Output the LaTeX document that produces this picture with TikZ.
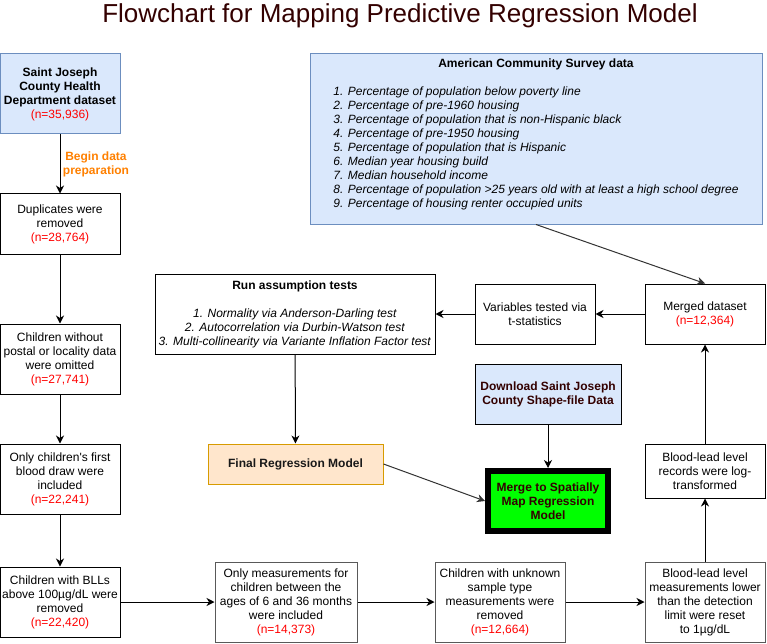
\documentclass[tikz,border=0pt]{standalone}
\usepackage{fontspec}
\usepackage{array}
\setmainfont{Liberation Sans}
\usetikzlibrary{arrows.meta}
\definecolor{acsblue}{HTML}{DAE8FC}
\definecolor{acsline}{HTML}{6C8EBF}
\definecolor{finfill}{HTML}{FFE6CC}
\definecolor{finline}{HTML}{D79B00}
\definecolor{maroon}{HTML}{330000}
\definecolor{prep}{HTML}{FF8000}
\definecolor{mapgreen}{HTML}{00FF00}
\newcommand{\nval}[1]{\textcolor{red}{\mdseries(n=#1)}}
\begin{document}
\begin{tikzpicture}[x=1pt, y=-1pt,
  every node/.style={font=\fontsize{12}{14}\selectfont, align=center, inner sep=0pt},
  box/.style={draw, line width=1pt, minimum width=120pt, minimum height=60pt},
  graybox/.style={box, draw=black!65},
  bluebox/.style={box, fill=acsblue, draw=acsline},
  flow/.style={-{Stealth[length=8pt,width=8pt,inset=2.5pt]}, line width=1pt},
  link/.style={flow, draw=black!80}]
\useasboundingbox (0,0) rectangle (767,644);
\node[font=\fontsize{26}{30}\selectfont, text=maroon, anchor=base] (title) at (400,23) {Flowchart for Mapping Predictive Regression Model};
% left column
\node[bluebox, minimum height=80pt, font=\fontsize{12}{14}\selectfont\bfseries] (sjchd) at (60,94) {Saint Joseph\\County Health\\Department dataset\\\nval{35,936}};
\node[text=prep, font=\fontsize{12}{14}\selectfont\bfseries] (preplbl) at (96,164) {Begin data\\preparation};
\node[box] (dup) at (60,224) {Duplicates were\\removed\\\nval{28,764}};
\node[box, minimum height=70pt] (postal) at (60,359) {Children without\\postal or locality data\\were omitted\\\nval{27,741}};
\node[box, minimum height=70pt] (first) at (60,479) {Only children\textquotesingle s first\\blood draw were\\included\\\nval{22,241}};
\node[box, minimum height=70pt] (bll) at (60,602) {Children with BLLs\\above 100µg/dL were\\removed\\\nval{22,420}};
% bottom row
\node[graybox, minimum width=142pt, minimum height=80pt] (ages) at (286,602) {Only measurements for\\children between the\\ages of 6 and 36 months\\were included\\\nval{14,373}};
\node[graybox, minimum width=130pt, minimum height=80pt] (unknown) at (500,602) {Children with unknown\\sample type\\measurements were\\removed\\\nval{12,664}};
\node[graybox, minimum height=80pt] (lower) at (705,602) {Blood-lead level\\measurements lower\\than the detection\\limit were reset\\to 1µg/dL};
% right column
\node[box, minimum height=54pt] (logt) at (705,471) {Blood-lead level\\records were log-\\transformed};
\node[box] (merged) at (705,314) {Merged dataset\\\nval{12,364}};
\node[box] (vars) at (535,314) {Variables tested via\\t-statistics};
\node[box, minimum width=280pt, minimum height=80pt] (run) at (295,314) {\textbf{Run assumption tests}\\[14pt]\textit{1. Normality via Anderson-Darling test}\\\textit{2. Autocorrelation via Durbin-Watson test}\\\textit{3. Multi-collinearity via Variante Inflation Factor test}};
\node[bluebox, minimum width=452pt, minimum height=170pt] (acs) at (536,139) {\textbf{American Community Survey data}\\[14pt]\begin{tabular}[t]{@{}>{\itshape}l@{}}
1. Percentage of population below poverty line\\
2. Percentage of pre-1960 housing\\
3. Percentage of population that is non-Hispanic black\\
4. Percentage of pre-1950 housing\\
5. Percentage of population that is Hispanic\\
6. Median year housing build\\
7. Median household income\\
8. Percentage of population >25 years old with at least a high school degree\\
9. Percentage of housing renter occupied units
\end{tabular}\\[6pt]\mbox{}};
% model
\node[box, draw=black, fill=acsblue, minimum width=146pt, text=maroon, font=\fontsize{12}{14}\selectfont\bfseries] (down) at (548,394) {Download Saint Joseph\\County Shape-file Data};
\node[box, draw=finline, fill=finfill, minimum width=175pt, minimum height=40pt, text=black!90, font=\fontsize{12}{14}\selectfont\bfseries] (final) at (295.5,464) {Final Regression Model};
\node[box, line width=6pt, fill=mapgreen, text=maroon, font=\fontsize{12}{14}\selectfont\bfseries] (merge) at (548,501) {Merge to Spatially\\Map Regression\\Model};
\draw[flow](sjchd) -- (dup);
\draw[flow](dup) -- (postal);
\draw[flow](postal) -- (first);
\draw[flow](first) -- (bll);
\draw[flow](bll) -- (ages);
\draw[flow](ages) -- (unknown);
\draw[flow](unknown) -- (lower);
\draw[flow](lower) -- (logt);
\draw[flow](logt) -- (merged);
\draw[link](acs.south) -- (merged.north);
\draw[flow](merged) -- (vars);
\draw[flow](vars) -- (run);
\draw[flow](run) -- (final);
\draw[flow](down) -- (merge);
\draw[link](final.east) -- (merge.west);
\end{tikzpicture}
\end{document}
